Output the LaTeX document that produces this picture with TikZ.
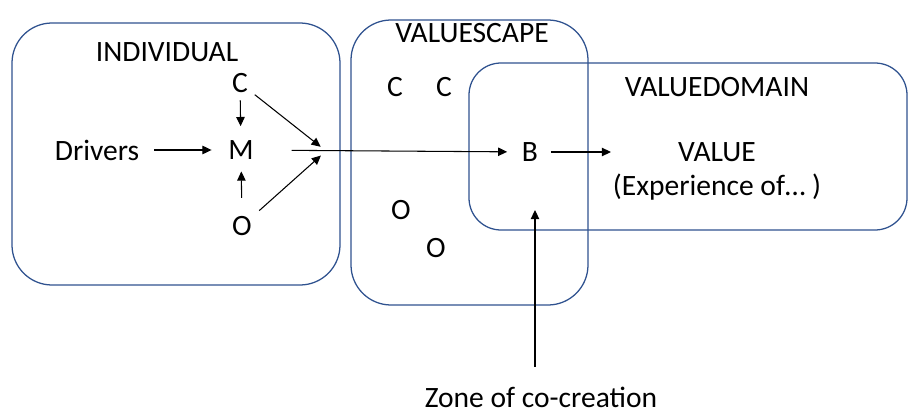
\documentclass[tikz,border=0pt]{standalone}
\usepackage{fontspec}
\setmainfont{Carlito}
\usetikzlibrary{arrows.meta}
\definecolor{zoneblue}{RGB}{47,82,143}
\tikzset{zone/.style={draw=zoneblue, line width=0.9pt}}
\tikzset{arr/.style={-{Triangle[length=6.5pt,width=6pt]}, line width=0.75pt}}
\tikzset{lbl/.style={font=\fontsize{21}{25}\selectfont}}

\begin{document}
\begin{tikzpicture}[x=0.025cm,y=-0.025cm,every node/.style={inner sep=0,outer sep=0,lbl}]
\useasboundingbox (0,0) rectangle (909,414);
% Zones
\draw[zone, rounded corners=1cm] (12,23) rectangle (340,285);
\draw[zone, rounded corners=1cm] (351,20) rectangle (588,305);
\draw[zone, rounded corners=0.8cm] (469,63) rectangle (907,230);
% Titles
\node (indiv) at (167,52) {INDIVIDUAL};
\node (vscape) at (472,33) {VALUESCAPE};
\node (vdomain) at (717,87) {VALUEDOMAIN};
%% Individual
\node (drv) at (97,150) {Drivers};
\node (c1) at (240,83) {C};
\node (m) at (241,150) {M};
\node (o1) at (242,226) {O};
\coordinate (join) at (326,151);
%% Valuescape
\node (c2) at (395,87) {C};
\node (c3) at (444,87) {C};
\node (o2) at (401,210) {O};
\node (o3) at (436,248) {O};
% Behaviour and value
\node (b) at (530,152) {B};
\node (val) at (717,152) {VALUE};
\node (exp) at (717,187) {(Experience of… )};
% Co-creation
\node (zone) at (541,397) {Zone of co-creation};
\coordinate (tip) at (535,210);
% Arrows
\draw[arr, shorten <=0.38cm, shorten >=0.42cm] (drv) -- (m);
\draw[arr, shorten <=0.19cm, shorten >=0.36cm] (c1) -- (m);
\draw[arr, shorten <=0.46cm, shorten >=0.3cm] (o1) -- (m);
\draw[arr, shorten <=0.22cm, shorten >=0.17cm] (c1) -- (join);
\draw[arr, shorten <=0.25cm, shorten >=0.17cm] (o1) -- (join);
\draw[arr, shorten <=0.95cm, shorten >=0.37cm] (m) -- (b);
\draw[arr, shorten <=0.32cm, shorten >=1.68cm] (b) -- (val);
\draw[arr, shorten <=0.5cm] (tip |- zone.north) -- (tip);
\end{tikzpicture}
\end{document}
